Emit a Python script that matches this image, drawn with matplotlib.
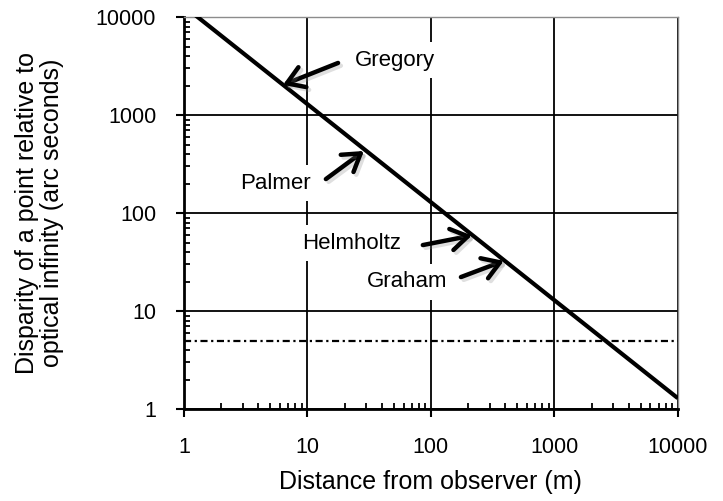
import matplotlib
matplotlib.use("Agg")
import matplotlib.pyplot as plt
import matplotlib.patheffects as pe
from matplotlib.ticker import LogLocator, FixedLocator, NullFormatter

plt.rcParams['font.family'] = ['Liberation Sans', 'DejaVu Sans']

# disparity line (end points)
distance = [1, 10000]
disparity = [12900, 1.29]

# dash-dot threshold
threshold = 5

# annotations: label, text centre, arrow tail, arrow tip
names = ['Gregory', 'Palmer', 'Helmholtz', 'Graham']
text_x = [51, 5.5, 23, 64]
text_y = [3640, 202, 49.4, 19.8]
tail_x = [17.7, 14.1, 86, 175]
tail_y = [3400, 222, 47.1, 22.2]
tip_x = [6.33, 28.7, 215, 390]
tip_y = [2030, 430, 59, 32.5]

decades = [1, 10, 100, 1000, 10000]

fig = plt.figure(figsize=(7.23, 5.01), dpi=100)
ax = fig.add_axes([0.2545, 0.1836, 0.683, 0.7824])
ax.set_xscale('log')
ax.set_yscale('log')
ax.set_xlim(1, 10000)
ax.set_ylim(1, 10000)

# gridlines at decades
for d in decades:
    ax.axvline(d, color='black', lw=1.3, zorder=1)
    ax.axhline(d, color='black', lw=1.3, zorder=1)

ax.plot(distance, disparity, color='black', lw=3, zorder=3, solid_capstyle='butt')
ax.plot([distance[0], distance[-1]], [threshold, threshold], color='black', lw=1.6,
        dashes=(3.2, 1.6, 1.0, 1.6), zorder=2)

for name, tx, ty, ax0, ay0, bx, by in zip(names, text_x, text_y, tail_x, tail_y, tip_x, tip_y):
    ax.text(tx, ty, name, ha='center', va='center', fontsize=16, zorder=4,
            bbox=dict(boxstyle='square,pad=0.35', fc='white', ec='none'))
    ax.annotate('', xy=(bx, by), xytext=(ax0, ay0), zorder=5,
                arrowprops=dict(arrowstyle='->,head_length=0.55,head_width=0.35',
                                lw=3.2, color='black', shrinkA=0, shrinkB=0,
                                mutation_scale=22,
                                path_effects=[pe.SimpleLineShadow(offset=(2, -2), shadow_color='0.5', alpha=0.25),
                                              pe.Normal()]))

ax.xaxis.set_major_locator(FixedLocator(decades))
ax.yaxis.set_major_locator(FixedLocator(decades))
ax.set_xticklabels([str(d) for d in decades])
ax.set_yticklabels([str(d) for d in decades])
ax.xaxis.set_minor_locator(LogLocator(base=10, subs=range(2, 10)))
ax.yaxis.set_minor_locator(LogLocator(base=10, subs=range(2, 10)))
ax.xaxis.set_minor_formatter(NullFormatter())
ax.yaxis.set_minor_formatter(NullFormatter())
ax.tick_params(which='major', direction='out', length=6, width=1.5, labelsize=15.5, pad=14)
ax.tick_params(which='minor', direction='in', length=4.3, width=1.3)

for s in ['left', 'bottom']:
    ax.spines[s].set_linewidth(2)
for s in ['top', 'right']:
    ax.spines[s].set_color('0.55')
    ax.spines[s].set_linewidth(1)

ax.set_xlabel('Distance from observer (m)', fontsize=18, labelpad=9)
ax.set_ylabel('Disparity of a point relative to\noptical infinity (arc seconds)', fontsize=18,
              labelpad=23, linespacing=1.05)

fig.savefig('out.png', dpi=100)
